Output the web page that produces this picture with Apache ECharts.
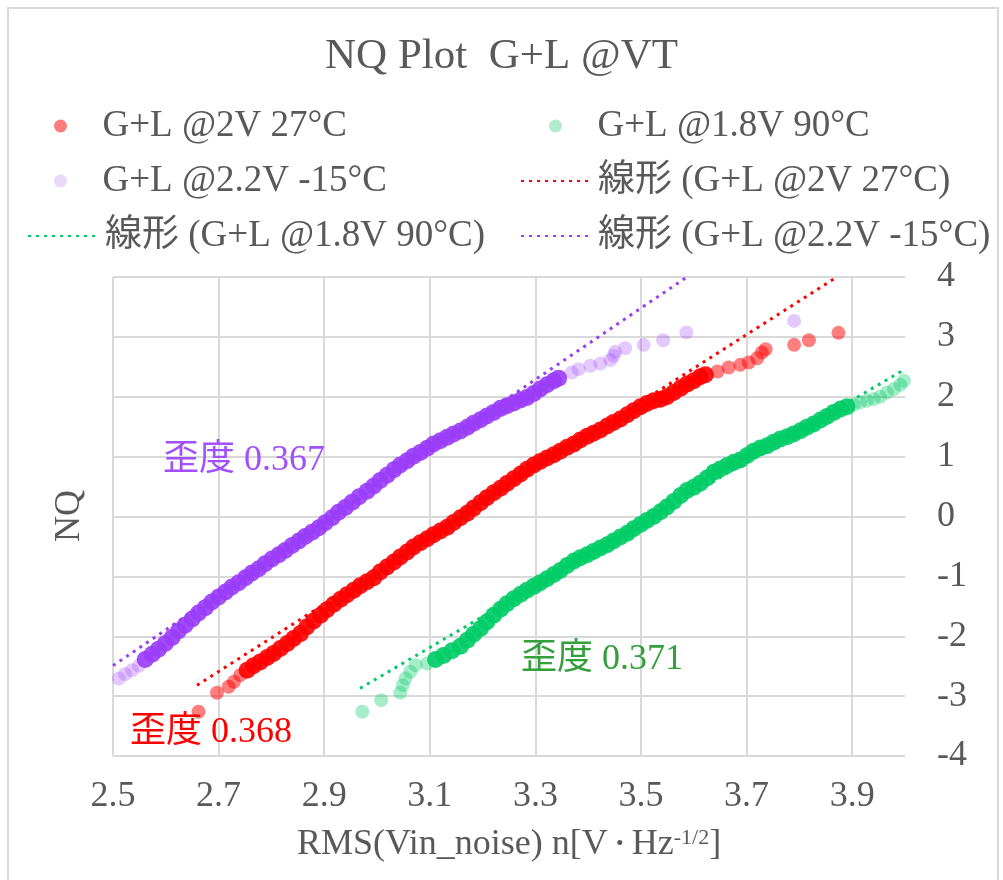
<!DOCTYPE html>
<html>
<head>
<meta charset="utf-8">
<title>NQ Plot G+L @VT</title>
<script src="https://cdn.jsdelivr.net/npm/echarts@6.0.0/dist/echarts.min.js"></script>
<style>
  html, body { margin: 0; padding: 0; background: #fff; }
  #chart { width: 1003px; height: 880px; }
</style>
</head>
<body>
<div id="chart"></div>
<script>
// series names
const nameRed = 'G+L @2V 27°C'
const nameGreen = 'G+L @1.8V 90°C'
const namePurple = 'G+L @2.2V -15°C'
const trendRed = '線形 (G+L @2V 27°C)'
const trendGreen = '線形 (G+L @1.8V 90°C)'
const trendPurple = '線形 (G+L @2.2V -15°C)'

// x tick labels
const xTicks = [2.5, 2.7, 2.9, 3.1, 3.3, 3.5, 3.7, 3.9]

// [RMS, NQ] — dense middle part and sparse ends
const redCore = [
  [2.754, -2.567], [2.766, -2.494], [2.779, -2.428], [2.792, -2.356], [2.804, -2.289], [2.817, -2.206],
  [2.830, -2.122], [2.842, -2.039], [2.855, -1.956], [2.867, -1.844], [2.880, -1.744], [2.893, -1.650],
  [2.905, -1.556], [2.918, -1.467], [2.931, -1.383], [2.943, -1.306], [2.956, -1.233], [2.968, -1.156],
  [2.981, -1.089], [2.994, -1.022], [3.006, -0.928], [3.019, -0.844], [3.032, -0.761], [3.044, -0.678],
  [3.057, -0.594], [3.069, -0.511], [3.082, -0.439], [3.095, -0.372], [3.107, -0.306], [3.120, -0.244],
  [3.133, -0.178], [3.145, -0.100], [3.158, -0.022], [3.171, 0.056], [3.183, 0.140], [3.196, 0.230],
  [3.208, 0.315], [3.221, 0.395], [3.234, 0.470], [3.246, 0.550], [3.259, 0.630], [3.272, 0.710],
  [3.284, 0.790], [3.297, 0.860], [3.309, 0.920], [3.322, 0.978], [3.335, 1.033], [3.347, 1.089],
  [3.360, 1.156], [3.373, 1.211], [3.385, 1.278], [3.398, 1.339], [3.410, 1.389], [3.423, 1.444],
  [3.436, 1.511], [3.448, 1.572], [3.461, 1.628], [3.474, 1.700], [3.486, 1.767], [3.499, 1.833],
  [3.511, 1.889], [3.524, 1.933], [3.537, 1.960], [3.549, 2.000], [3.562, 2.072], [3.575, 2.144],
  [3.587, 2.211], [3.600, 2.267], [3.612, 2.333], [3.622, 2.367]
]
const redTail = [
  [2.662, -3.261], [2.697, -2.944], [2.719, -2.844], [2.729, -2.761], [2.741, -2.650],
  [3.645, 2.422], [3.666, 2.489], [3.688, 2.533], [3.704, 2.572], [3.720, 2.644], [3.729, 2.739],
  [3.736, 2.794], [3.790, 2.867], [3.818, 2.944], [3.874, 3.067]
]

const greenCore = [
  [3.111, -2.389], [3.126, -2.322], [3.142, -2.244], [3.158, -2.167], [3.171, -2.067], [3.183, -1.967],
  [3.196, -1.872], [3.208, -1.761], [3.221, -1.650], [3.234, -1.550], [3.246, -1.456], [3.259, -1.372],
  [3.272, -1.300], [3.284, -1.233], [3.297, -1.167], [3.309, -1.106], [3.322, -1.039], [3.335, -0.967],
  [3.347, -0.900], [3.360, -0.817], [3.373, -0.744], [3.385, -0.689], [3.398, -0.639], [3.410, -0.583],
  [3.423, -0.528], [3.436, -0.472], [3.448, -0.411], [3.461, -0.344], [3.474, -0.278], [3.486, -0.206],
  [3.499, -0.133], [3.511, -0.067], [3.524, 0.000], [3.537, 0.080], [3.549, 0.160], [3.562, 0.250],
  [3.575, 0.350], [3.587, 0.433], [3.600, 0.489], [3.612, 0.556], [3.625, 0.644], [3.638, 0.739],
  [3.650, 0.794], [3.663, 0.850], [3.676, 0.906], [3.688, 0.944], [3.701, 1.017], [3.713, 1.089],
  [3.726, 1.144], [3.739, 1.183], [3.751, 1.239], [3.764, 1.294], [3.777, 1.333], [3.789, 1.378],
  [3.802, 1.433], [3.814, 1.489], [3.827, 1.544], [3.840, 1.611], [3.852, 1.672], [3.865, 1.739],
  [3.878, 1.794], [3.890, 1.833]
]
const greenTail = [
  [2.972, -3.261], [3.008, -3.067], [3.044, -2.944], [3.049, -2.817], [3.054, -2.706], [3.063, -2.594],
  [3.073, -2.483], [3.095, -2.456],
  [3.903, 1.867], [3.915, 1.906], [3.928, 1.933], [3.941, 1.961], [3.953, 2.000], [3.966, 2.072],
  [3.979, 2.128], [3.991, 2.200], [3.998, 2.267]
]

const purpleCore = [
  [2.561, -2.389], [2.574, -2.300], [2.586, -2.217], [2.599, -2.122], [2.612, -2.022], [2.624, -1.911],
  [2.637, -1.811], [2.650, -1.711], [2.662, -1.611], [2.675, -1.522], [2.687, -1.428], [2.700, -1.344],
  [2.713, -1.261], [2.725, -1.178], [2.738, -1.106], [2.751, -1.022], [2.763, -0.944], [2.776, -0.872],
  [2.788, -0.789], [2.801, -0.711], [2.814, -0.639], [2.826, -0.567], [2.839, -0.483], [2.852, -0.411],
  [2.864, -0.333], [2.877, -0.261], [2.890, -0.189], [2.902, -0.105], [2.915, -0.020], [2.927, 0.070],
  [2.940, 0.150], [2.953, 0.240], [2.966, 0.330], [2.981, 0.420], [2.994, 0.510], [3.006, 0.600],
  [3.019, 0.690], [3.032, 0.780], [3.044, 0.860], [3.057, 0.930], [3.069, 1.006], [3.082, 1.067],
  [3.095, 1.139], [3.107, 1.211], [3.120, 1.267], [3.133, 1.322], [3.145, 1.378], [3.158, 1.428],
  [3.171, 1.489], [3.183, 1.556], [3.196, 1.617], [3.208, 1.678], [3.221, 1.739], [3.234, 1.806],
  [3.246, 1.850], [3.259, 1.894], [3.272, 1.944], [3.284, 1.989], [3.297, 2.056], [3.309, 2.128],
  [3.322, 2.200], [3.335, 2.267], [3.344, 2.311]
]
const purpleTail = [
  [2.511, -2.706], [2.523, -2.633], [2.536, -2.567], [2.549, -2.494],
  [3.369, 2.406], [3.382, 2.461], [3.404, 2.517], [3.423, 2.556], [3.442, 2.611], [3.448, 2.683],
  [3.451, 2.750], [3.470, 2.811], [3.505, 2.867], [3.542, 2.944], [3.586, 3.072], [3.790, 3.267]
]

// linear trend lines, end points
const redTrend = [[2.659, -2.82], [3.871, 4.0]]
const greenTrend = [[2.968, -2.87], [3.998, 2.45]]
const purpleTrend = [[2.5, -2.49], [3.587, 4.0]]

// skewness notes
const notes = [
  { text: '歪度 0.367', x: 163, y: 461, color: '#a050ff' },
  { text: '歪度 0.368', x: 130, y: 733, color: '#ff0000' },
  { text: '歪度 0.371', x: 521, y: 660, color: '#34a03c' }
]

const SERIF = "'Liberation Serif', 'Times New Roman', 'Noto Sans CJK JP', serif"
const TEXT = '#595959'

const RED = '#ff0000'
const GREEN = '#00cc66'
const PURPLE = '#9a3cf8'

const scatter = (name, data, color, opacity, size) => ({
  name,
  type: 'scatter',
  data,
  symbol: 'circle',
  symbolSize: size,
  itemStyle: { color, opacity },
  emphasis: { disabled: true },
  silent: true
})

const trend = (name, data, color) => ({
  name,
  type: 'line',
  data,
  symbol: 'none',
  lineStyle: { color, width: 3, type: [3, 5] },
  itemStyle: { color },
  emphasis: { disabled: true },
  silent: true,
  z: 5
})

// one legend box per entry, so each sits where the reference has it
// dot: legend colour for scatter entries; none: hide the middle symbol on line entries
const legendAt = (name, left, top, dot) => ({
  data: [dot
    ? { name, itemStyle: { color: dot } }
    : { name, itemStyle: { color: 'rgba(0,0,0,0)', opacity: 0, borderWidth: 0 } }],
  left,
  top,
  padding: 0,
  itemWidth: 70,
  itemHeight: 13,
  selectedMode: false,
  textStyle: { fontFamily: SERIF, fontSize: 37, color: TEXT, lineHeight: 38, padding: [0, 0, 0, 2] }
})

const chart = echarts.init(document.getElementById('chart'))

chart.setOption({
  animation: false,
  backgroundColor: '#fff',
  title: {
    text: 'NQ Plot  G+L @VT',
    left: 'center',
    top: 35,
    padding: 0,
    textStyle: { fontFamily: SERIF, fontSize: 43, fontWeight: 'normal', color: TEXT }
  },
  legend: [
    legendAt(nameRed, 54, 107, '#ff6e6e'),
    legendAt(namePurple, 54, 162, '#e6d5fb'),
    legendAt(trendGreen, 27, 217),
    legendAt(nameGreen, 549, 107, '#a8e8c8'),
    legendAt(trendRed, 520, 162),
    legendAt(trendPurple, 520, 217)
  ],
  grid: { left: 113, right: 98, top: 277, bottom: 124, containLabel: false },
  xAxis: {
    type: 'value',
    min: 2.5,
    max: 4.0,
    name: 'RMS(Vin_noise) n[V{dot|・}Hz{sup|-1/2}]',
    nameLocation: 'middle',
    nameGap: 71,
    nameTextStyle: {
      fontFamily: SERIF, fontSize: 36, color: TEXT,
      rich: {
        dot: { fontFamily: SERIF, fontSize: 24, color: TEXT },
        sup: { fontFamily: SERIF, fontSize: 22, color: TEXT, verticalAlign: 'top', padding: [0, 0, 14, 0] }
      }
    },
    axisLine: { show: true, lineStyle: { color: '#d9d9d9', width: 2 } },
    axisTick: { show: false, customValues: xTicks },
    axisLabel: {
      customValues: xTicks,
      margin: 23,
      fontFamily: SERIF, fontSize: 36, color: TEXT,
      formatter: v => v.toFixed(1)
    },
    splitLine: { show: true, lineStyle: { color: '#d9d9d9', width: 2 } }
  },
  yAxis: {
    type: 'value',
    position: 'right',
    min: -4,
    max: 4,
    interval: 1,
    axisLine: { show: false },
    axisTick: { show: false },
    axisLabel: { margin: 32, fontFamily: SERIF, fontSize: 36, color: TEXT },
    splitLine: { show: true, lineStyle: { color: '#d9d9d9', width: 2 } }
  },
  series: [
    scatter(nameRed, redCore, RED, 0.9, 17),
    scatter(nameRed, redTail, RED, 0.5, 14),
    scatter(nameGreen, greenCore, GREEN, 0.9, 17),
    scatter(nameGreen, greenTail, GREEN, 0.35, 14),
    scatter(namePurple, purpleCore, PURPLE, 0.9, 17),
    scatter(namePurple, purpleTail, PURPLE, 0.28, 14),
    trend(trendRed, redTrend, RED),
    trend(trendGreen, greenTrend, GREEN),
    trend(trendPurple, purpleTrend, PURPLE)
  ],
  graphic: [
    {
      type: 'rect',
      shape: { x: 8, y: 8, width: 990, height: 890 },
      style: { fill: 'none', stroke: '#d9d9d9', lineWidth: 2 },
      silent: true,
      z: -10
    },
    {
      type: 'text',
      x: 70,
      y: 516,
      rotation: Math.PI / 2,
      style: { text: 'NQ', fontFamily: SERIF, fontSize: 36, fill: TEXT, align: 'center', verticalAlign: 'middle' },
      silent: true
    },
    ...notes.map(n => ({
      type: 'text',
      x: n.x,
      y: n.y,
      style: { text: n.text, fontFamily: SERIF, fontSize: 36, fill: n.color, align: 'left', verticalAlign: 'middle' },
      silent: true,
      z: 10
    }))
  ]
})
</script>
</body>
</html>
